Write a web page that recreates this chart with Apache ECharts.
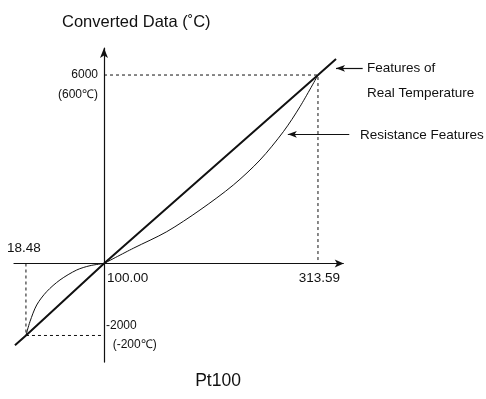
<!DOCTYPE html>
<html>
<head>
<meta charset="utf-8">
<script src="https://cdn.jsdelivr.net/npm/echarts@6/dist/echarts.min.js"></script>
<style>
  html, body { margin: 0; padding: 0; background: #fff; }
  #chart { width: 486px; height: 399px; }
</style>
</head>
<body>
<div id="chart"></div>
<script>
// tick values (resistance in ohm on x, converted data on y)
const xTicksLow = [18.48];
const xTicksHigh = [100.00, 313.59];
const yTicksHigh = [6000];
const yTicksLow = [-2000];
const tempHigh = [600];
const tempLow = [-200];

// features of real temperature (straight line), split at the origin
const realTempHigh = [[100, 0], [313.59, 6000], [331.6, 6510]];
const realTempLow = [[7, -2270], [18.48, -2000], [100, 0]];

// resistance features (curve)
const resistHigh = [[100, 0], [129.2, 484], [162.6, 1012], [195.8, 1703], [229.1, 2499],
  [255.7, 3294], [279.0, 4195], [295.6, 4991], [313.59, 6000]];
const resistLow = [[18.48, -2000], [22.66, -1617], [29.7, -1153], [40.1, -783],
  [54.0, -458], [71.47, -181], [85.37, -61], [100, 0]];

// dashed guide lines
const guideHigh = [[100, 6000], [313.59, 6000], [313.59, 0]];
const guideLow = [[18.48, 0], [18.48, -2000], [100, -2000]];

const sans = "'Liberation Sans', Arial, sans-serif";
const ink = '#111';

const chart = echarts.init(document.getElementById('chart'));

const textPoint = (name, coord) => ({
  name: name,
  coord: coord,
  symbolSize: 0,
  label: {
    show: true, position: 'right', distance: 0, formatter: '{b}',
    color: ink, fontSize: 13.5, fontFamily: sans
  }
});

const arrowLine = (from, to) => [{ coord: from }, { coord: to }];

const option = {
  animation: false,
  title: {
    text: 'Converted Data (˚C)',
    left: 62, top: 14, padding: 0,
    textStyle: { color: ink, fontSize: 16.5, fontWeight: 'normal', fontFamily: sans }
  },
  grid: [
    { left: 104, top: 48, width: 380.7, height: 215.5, outerBoundsMode: 'none' },
    { left: 14, top: 263.5, width: 90, height: 98.6, outerBoundsMode: 'none' }
  ],
  xAxis: [
    {
      type: 'value', gridIndex: 0, min: 100, max: 480,
      axisLine: { show: false },
      axisTick: { show: false },
      splitLine: { show: false },
      axisLabel: {
        customValues: xTicksHigh,
        formatter: v => v.toFixed(2),
        alignMinLabel: 'left',
        padding: [0, 0, 0, 3],
        margin: 8,
        color: ink, fontSize: 13.5, fontFamily: sans
      }
    },
    {
      type: 'value', gridIndex: 1, min: 6, max: 100, position: 'top',
      axisLine: { show: true, onZero: false, lineStyle: { color: ink, width: 1.2 } },
      axisTick: { show: false },
      splitLine: { show: false },
      axisLabel: {
        customValues: xTicksLow,
        formatter: v => v.toFixed(2),
        padding: [0, 4, 0, 0],
        margin: 8,
        color: ink, fontSize: 13.5, fontFamily: sans
      }
    }
  ],
  yAxis: [
    {
      type: 'value', gridIndex: 0, min: 0, max: 6860,
      axisLine: {
        show: true, onZero: false, symbol: ['none', 'arrow'], symbolSize: [6, 10],
        lineStyle: { color: ink, width: 1.2 }
      },
      axisTick: { show: false },
      splitLine: { show: false },
      axisLabel: {
        customValues: yTicksHigh,
        formatter: v => ' \n' + v + '\n(' + tempHigh[yTicksHigh.indexOf(v)] + '℃)',
        lineHeight: 20,
        margin: 6,
        color: ink, fontSize: 12, fontFamily: sans
      }
    },
    {
      type: 'value', gridIndex: 1, min: -2740, max: 0, position: 'right',
      axisLine: { show: true, onZero: false, lineStyle: { color: ink, width: 1.2 } },
      axisTick: { show: false },
      splitLine: { show: false },
      axisLabel: {
        customValues: yTicksLow,
        formatter: v => v + '\n  (' + tempLow[yTicksLow.indexOf(v)] + '℃)',
        lineHeight: 19,
        margin: 2,
        color: ink, fontSize: 12, fontFamily: sans
      }
    }
  ],
  series: [
    {
      name: 'Features of Real Temperature',
      type: 'line', xAxisIndex: 0, yAxisIndex: 0,
      data: realTempHigh, symbol: 'none',
      lineStyle: { color: ink, width: 2 },
      markLine: {
        silent: true, symbol: ['none', 'arrow'], symbolSize: [5, 9],
        label: { show: false },
        lineStyle: { color: ink, width: 1.2, type: 'solid' },
        data: [arrowLine([358.2, 6213], [331.6, 6213])]
      },
      markPoint: {
        silent: true,
        data: [textPoint('Features of', [362.5, 6223]), textPoint('Real Temperature', [362.5, 5427])]
      }
    },
    {
      name: 'Resistance Features',
      type: 'line', xAxisIndex: 0, yAxisIndex: 0,
      data: resistHigh, symbol: 'none', smooth: 0.3,
      lineStyle: { color: ink, width: 1 },
      markLine: {
        silent: true, symbol: ['none', 'arrow'], symbolSize: [5, 9],
        label: { show: false },
        lineStyle: { color: ink, width: 1.2, type: 'solid' },
        data: [arrowLine([344.8, 4112], [283.5, 4112])]
      },
      markPoint: {
        silent: true,
        data: [textPoint('Resistance Features', [355.5, 4097])]
      }
    },
    {
      name: 'guide high',
      type: 'line', xAxisIndex: 0, yAxisIndex: 0,
      data: guideHigh, symbol: 'none',
      lineStyle: { color: ink, width: 1, type: [3, 3] },
      markLine: {
        silent: true, symbol: ['none', 'arrow'], symbolSize: [6, 9],
        label: { show: false },
        lineStyle: { color: ink, width: 1.2, type: 'solid' },
        data: [arrowLine([100, 0], [339.3, 0])]
      }
    },
    {
      name: 'Features of Real Temperature low',
      type: 'line', xAxisIndex: 1, yAxisIndex: 1,
      data: realTempLow, symbol: 'none',
      lineStyle: { color: ink, width: 2 }
    },
    {
      name: 'Resistance Features low',
      type: 'line', xAxisIndex: 1, yAxisIndex: 1,
      data: resistLow, symbol: 'none', smooth: 0.3,
      lineStyle: { color: ink, width: 1 }
    },
    {
      name: 'guide low',
      type: 'line', xAxisIndex: 1, yAxisIndex: 1,
      data: guideLow, symbol: 'none',
      lineStyle: { color: ink, width: 1, type: [3, 3] }
    }
  ],
  graphic: [
    {
      type: 'text', x: 218, y: 381,
      style: {
        text: 'Pt100', fill: ink, fontSize: 17.5, fontFamily: sans,
        align: 'center', verticalAlign: 'middle'
      }
    }
  ]
};

chart.setOption(option);
</script>
</body>
</html>
